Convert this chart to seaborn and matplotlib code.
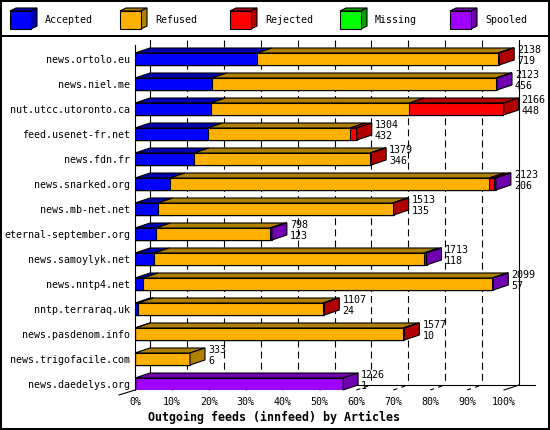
import numpy as np
import pandas as pd
import matplotlib
matplotlib.use("Agg")
import matplotlib.pyplot as plt
import seaborn as sns
from matplotlib.patches import Polygon, Rectangle
from matplotlib.lines import Line2D

# ---------------- data ----------------
hosts = ["news.ortolo.eu", "news.niel.me", "nut.utcc.utoronto.ca", "feed.usenet-fr.net",
         "news.fdn.fr", "news.snarked.org", "news.mb-net.net", "eternal-september.org",
         "news.samoylyk.net", "news.nntp4.net", "nntp.terraraq.uk", "news.pasdenom.info",
         "news.trigofacile.com", "news.daedelys.org"]
accepted = [33.1, 20.8, 20.5, 19.7, 16.0, 9.5, 6.2, 5.6, 5.2, 2.2, 0.9, 0.1, 0.0, 0.0]
refused  = [65.3, 77.0, 53.8, 38.6, 47.7, 86.5, 63.6, 31.0, 73.1, 94.6, 50.1, 72.6, 14.9, 0.0]
rejected = [0.3, 0.0, 25.6, 1.8, 0.3, 1.3, 0.3, 0.0, 0.0, 0.0, 0.3, 0.3, 0.0, 0.0]
missing  = [0.0] * 14
spooled  = [0.0, 0.3, 0.0, 0.0, 0.0, 0.5, 0.0, 0.5, 0.7, 0.3, 0.0, 0.0, 0.0, 56.4]
offered_labels = ["2138", "2123", "2166", "1304", "1379", "2123", "1513", "798", "1713",
                  "2099", "1107", "1577", "333", "1226"]
second_labels = ["719", "456", "448", "432", "346", "206", "135", "123", "118", "57",
                 "24", "10", "6", "1"]
series_names = ["Accepted", "Refused", "Rejected", "Missing", "Spooled"]
xtick_values = [0, 10, 20, 30, 40, 50, 60, 70, 80, 90, 100]
xtick_labels = ["0%", "10%", "20%", "30%", "40%", "50%", "60%", "70%", "80%", "90%", "100%"]
x_title = "Outgoing feeds (innfeed) by Articles"

front_colors = ["#0000ff", "#ffb000", "#ff0000", "#00ff00", "#a000ff"]
dark_colors = ["#0000b0", "#b08000", "#b00000", "#00a000", "#7000b0"]

# ---------------- layout (pixels) ----------------
W, H, DPI = 550, 430, 100
X0, X100 = 135, 504
YTOP, YBOT = 45, 390
ROW0, ROWSP = 59, 25
PX = (X100 - X0) / 100.0
DX = 15 / PX
DY = 5 / ROWSP
BAR_H = 12 / ROWSP
LW = 0.8
FS = 7.2

plt.rcParams["font.family"] = ["DejaVu Sans Mono"]
plt.rcParams["lines.scale_dashes"] = False

fig = plt.figure(figsize=(W / DPI, H / DPI), dpi=DPI)
fig.patch.set_facecolor("white")
ax = fig.add_axes([X0 / W, 1 - YBOT / H, (X100 - X0) / W, (YBOT - YTOP) / H])

n = len(hosts)
ylim_top = -(ROW0 - YTOP) / ROWSP
ylim_bot = (n - 1) + (YBOT - (ROW0 + (n - 1) * ROWSP)) / ROWSP

df = pd.DataFrame({"host": hosts, "Accepted": accepted, "Refused": refused,
                   "Rejected": rejected, "Missing": missing, "Spooled": spooled})
vals = df[series_names].to_numpy()
cum = vals.cumsum(axis=1)

# back-plane dashed grid + frame lines
yb_top = ylim_top - DY
yb_bot = ylim_bot - DY
for v in xtick_values[1:-1]:
    ax.plot([v + DX, v + DX], [yb_top, yb_bot], color="black", lw=LW,
            linestyle=(0, (5, 3)), clip_on=False, zorder=0.5)
    ax.plot([v, v + DX], [ylim_bot, yb_bot], color="black", lw=LW,
            linestyle=(0, (3, 3)), clip_on=False, zorder=0.5)
ax.plot([DX, DX], [yb_top, yb_bot], color="black", lw=LW, clip_on=False, zorder=0.5)
ax.plot([100 + DX, 100 + DX], [yb_top, yb_bot], color="black", lw=LW, clip_on=False, zorder=0.5)
ax.plot([DX, (535 - X0) / PX], [yb_bot, yb_bot], color="black", lw=LW, clip_on=False, zorder=0.5)
ax.plot([0, (119 - X0) / PX], [ylim_bot, ylim_bot + DY], color="black", lw=LW, clip_on=False, zorder=0.5)
ax.plot([100, 100 + DX], [ylim_bot, yb_bot], color="black", lw=LW, clip_on=False, zorder=0.5)

# front faces: stacked via cumulative sums
for j in reversed(range(len(series_names))):
    d = pd.DataFrame({"host": hosts, "value": cum[:, j]})
    sns.barplot(data=d, x="value", y="host", orient="h", order=hosts,
                color=front_colors[j], saturation=1, width=BAR_H, errorbar=None,
                edgecolor="black", linewidth=LW, ax=ax, zorder=3)

# 3D top and side faces
for i in range(n):
    yt = i - BAR_H / 2
    yb = i + BAR_H / 2
    x0 = 0.0
    last = None
    for j in range(len(series_names)):
        v = vals[i, j]
        if v <= 0:
            continue
        x1 = x0 + v
        ax.add_patch(Polygon([(x0, yt), (x1, yt), (x1 + DX, yt - DY), (x0 + DX, yt - DY)],
                             closed=True, fc=dark_colors[j], ec="black", lw=LW,
                             zorder=3, clip_on=False))
        x0 = x1
        last = j
    if last is not None:
        ax.add_patch(Polygon([(x0, yt), (x0, yb), (x0 + DX, yb - DY), (x0 + DX, yt - DY)],
                             closed=True, fc=dark_colors[last], ec="black", lw=LW,
                             zorder=3, clip_on=False))
    total = cum[i, -1]
    ax.annotate(offered_labels[i], xy=(total, i), xytext=(18 * 0.72, 9 * 0.72),
                textcoords="offset points", ha="left", va="center", fontsize=FS,
                color="black", zorder=6, annotation_clip=False)
    ax.annotate(second_labels[i], xy=(total, i), xytext=(18 * 0.72, -2 * 0.72),
                textcoords="offset points", ha="left", va="center", fontsize=FS,
                color="black", zorder=6, annotation_clip=False)

ax.set_xlim(0, 100)
ax.set_ylim(ylim_bot, ylim_top)
ax.set_xticks(xtick_values)
ax.set_xticklabels(xtick_labels)
ax.tick_params(axis="x", length=0, pad=5, labelsize=FS, colors="black")
ax.tick_params(axis="y", length=0, pad=3.6, labelsize=FS, colors="black")
ax.set_xlabel("")
ax.set_ylabel("")
for s in ["top", "right", "bottom"]:
    ax.spines[s].set_visible(False)
ax.spines["left"].set_color("black")
ax.spines["left"].set_linewidth(LW)
ax.spines["left"].set_zorder(4)
ax.set_facecolor("none")


def fp(x, y):
    return (x / W, 1 - y / H)


fig.text(*fp(274, 417), x_title, ha="center", va="center", fontsize=8.4,
         fontweight="bold", color="black")

# legend
for k, name in enumerate(series_names):
    lx = 10 + 110 * k
    fig.add_artist(Polygon([fp(lx, 11), fp(lx + 21, 11), fp(lx + 27, 8), fp(lx + 6, 8)],
                           closed=True, transform=fig.transFigure, fc=dark_colors[k],
                           ec="black", lw=LW))
    fig.add_artist(Polygon([fp(lx + 21, 11), fp(lx + 21, 29), fp(lx + 27, 26), fp(lx + 27, 8)],
                           closed=True, transform=fig.transFigure, fc=dark_colors[k],
                           ec="black", lw=LW))
    fig.add_artist(Polygon([fp(lx, 11), fp(lx + 21, 11), fp(lx + 21, 29), fp(lx, 29)],
                           closed=True, transform=fig.transFigure, fc=front_colors[k],
                           ec="black", lw=LW))
    fig.text(*fp(lx + 35, 20), name, ha="left", va="center", fontsize=FS, color="black")

# separator and border
fig.add_artist(Line2D([0, 1], [1 - 36 / H, 1 - 36 / H], transform=fig.transFigure,
                      color="black", lw=1.44))
fig.add_artist(Rectangle((1 / W, 1 / H), (W - 2) / W, (H - 2) / H, transform=fig.transFigure,
                         fill=False, ec="black", lw=1.44))

fig.savefig("out.png", dpi=DPI)
